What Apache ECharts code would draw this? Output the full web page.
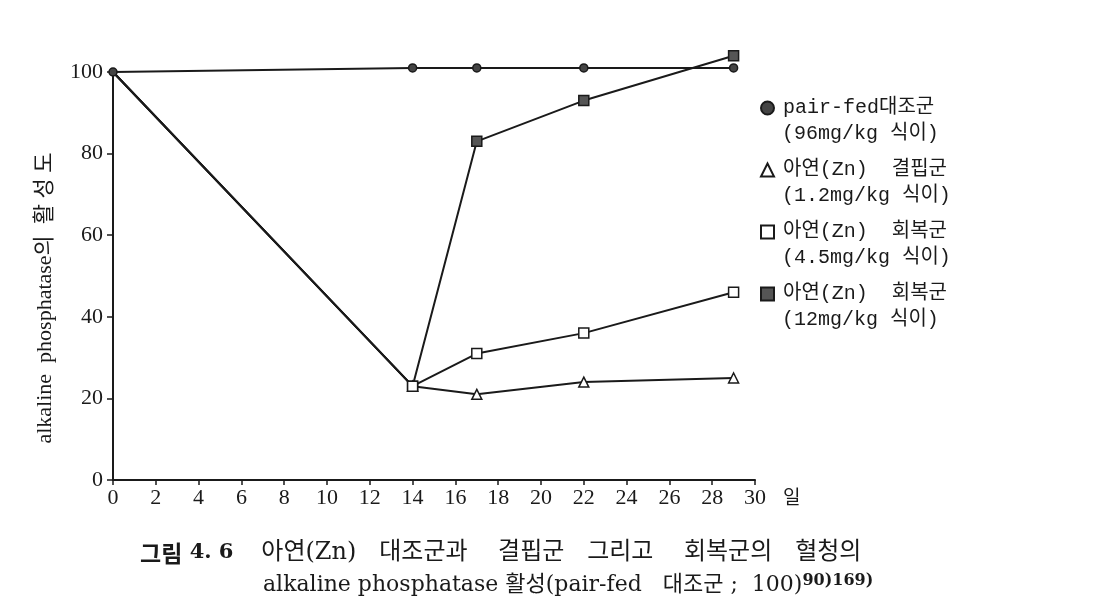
<!DOCTYPE html>
<html>
<head>
<meta charset="utf-8">
<script src="https://cdn.jsdelivr.net/npm/echarts@6/dist/echarts.min.js"></script>
<style>
  html, body { margin: 0; padding: 0; background: #fff; }
  #chart { width: 1096px; height: 602px; }
</style>
</head>
<body>
<div id="chart"></div>
<script>
// 측정 일수 (일)
const days = [0, 14, 17, 22, 29];
// 각 군의 alkaline phosphatase 활성도 (pair-fed 대조군 = 100)
const pairFed = [100, 101, 101, 101, 101];
const deficient = [100, 23, 21, 24, 25];
const recovery45 = [100, 23, 31, 36, 46];
const recovery12 = [100, 23, 83, 93, 104];
// 범례 (첫 줄 / 둘째 줄)
const legendNames = ['pair-fed대조군', '아연(Zn)  결핍군', '아연(Zn)  회복군 ', '아연(Zn)  회복군'];
const legendSub = ['(96mg/kg 식이)', '(1.2mg/kg 식이)', '(4.5mg/kg 식이)', '(12mg/kg 식이)'];

const SERIF = '"Liberation Serif", "Noto Sans CJK KR", serif';
const WIDE = '"DejaVu Serif", "Noto Sans CJK KR", serif';
const MONO = '"Liberation Mono", "Noto Sans CJK KR", monospace';
const HANGUL = '"Noto Sans CJK KR", sans-serif';
const INK = '#1a1a1a';

const chart = echarts.init(document.getElementById('chart'));

function pairs(ys) {
  return days.map((d, i) => [d, ys[i]]);
}

// 0일 지점은 공통 출발점이라 pair-fed 기호만 보이게 한다
function lineSeries(name, ys, symbol, size, fill, showFirst) {
  return {
    name: name,
    type: 'line',
    data: pairs(ys),
    clip: false,
    symbol: (val, params) => (showFirst || params.dataIndex > 0 ? symbol : 'none'),
    symbolSize: size,
    showAllSymbol: true,
    lineStyle: { color: INK, width: 2 },
    itemStyle: { color: fill, borderColor: INK, borderWidth: 1.5 },
    emphasis: { disabled: true }
  };
}

const option = {
  backgroundColor: '#fff',
  animation: false,
  grid: { left: 113, right: 341, top: 72, bottom: 122 },
  xAxis: {
    type: 'value',
    min: 0,
    max: 30,
    interval: 2,
    axisLine: { show: true, lineStyle: { color: INK, width: 2 } },
    axisTick: { show: true, length: 5, lineStyle: { color: INK, width: 1.5 } },
    axisLabel: { color: INK, fontSize: 22, fontFamily: SERIF, margin: 7 },
    splitLine: { show: false }
  },
  yAxis: {
    type: 'value',
    min: 0,
    max: 100,
    interval: 20,
    axisLine: { show: true, lineStyle: { color: INK, width: 2 } },
    axisTick: { show: true, length: 6, lineStyle: { color: INK, width: 1.5 } },
    axisLabel: { color: INK, fontSize: 22, fontFamily: SERIF, margin: 10 },
    splitLine: { show: false }
  },
  legend: {
    orient: 'vertical',
    left: 755,
    top: 93,
    itemWidth: 13,
    itemHeight: 13,
    itemGap: 42,
    selectedMode: false,
    textStyle: { color: INK, fontSize: 20, lineHeight: 20, fontFamily: MONO, padding: [0, 0, 0, 4] },
    data: [
      { name: legendNames[0], icon: 'circle' },
      { name: legendNames[1], icon: 'triangle' },
      { name: legendNames[2], icon: 'rect' },
      { name: legendNames[3], icon: 'rect' }
    ]
  },
  graphic: [
    ...legendSub.map((t, i) => ({
      type: 'text',
      x: 782,
      y: 134 + i * 62,
      style: { text: t, fill: INK, font: '20px ' + MONO, verticalAlign: 'middle' }
    })),
    {
      type: 'text',
      x: 45,
      y: 298,
      rotation: Math.PI / 2,
      style: {
        text: 'alkaline  phosphatase의  활 성 도',
        fill: INK,
        font: '22px ' + SERIF,
        align: 'center',
        verticalAlign: 'middle'
      }
    },
    {
      type: 'text',
      x: 783,
      y: 497,
      style: { text: '일', fill: INK, font: '19px ' + HANGUL, verticalAlign: 'middle' }
    },
    {
      type: 'text',
      x: 140,
      y: 553,
      style: {
        verticalAlign: 'middle',
        rich: {
          g: { font: 'bold 23px ' + HANGUL, fill: INK },
          h: { font: 'bold 21px ' + WIDE, fill: INK, width: 79 },
          n: { font: '24px ' + WIDE, fill: INK }
        },
        text: '{g|그림}{h| 4. 6}{n|아연(Zn)   대조군과    결핍군   그리고    회복군의   혈청의}'
      }
    },
    {
      type: 'text',
      x: 263,
      y: 585,
      style: {
        verticalAlign: 'middle',
        rich: {
          n: { font: '22px ' + WIDE, fill: INK },
          s: { font: 'bold 16px ' + WIDE, fill: INK, verticalAlign: 'top', padding: [0, 0, 8, 0] }
        },
        text: '{n|alkaline phosphatase 활성(pair-fed   대조군 ;  100)}{s|90)169)}'
      }
    }
  ],
  series: [
    lineSeries(legendNames[3], recovery12, 'rect', 10, '#555', false),
    lineSeries(legendNames[1], deficient, 'triangle', 10, '#fff', false),
    lineSeries(legendNames[2], recovery45, 'rect', 10, '#fff', false),
    lineSeries(legendNames[0], pairFed, 'circle', 8, '#444', true)
  ]
};

chart.setOption(option);
</script>
</body>
</html>
